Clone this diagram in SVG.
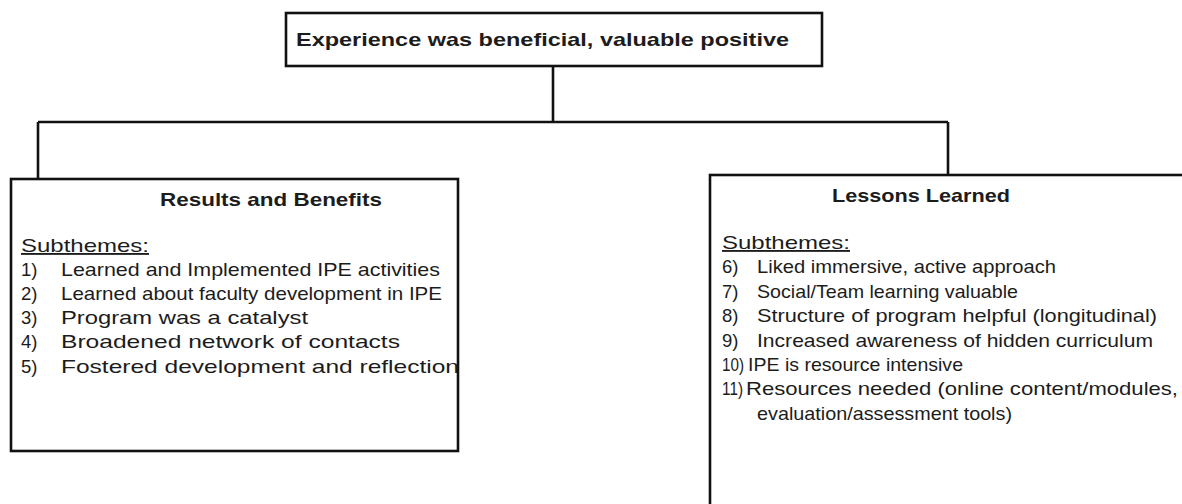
<svg xmlns="http://www.w3.org/2000/svg" width="1182" height="504" viewBox="0 0 1182 504">
  <style>
    .box { fill: #ffffff; stroke: #111111; stroke-width: 2.6; }
    .wire { fill: none; stroke: #111111; stroke-width: 2.6; }
    text { font-family: "Liberation Sans", Arial, sans-serif; fill: #1c1c1c; font-size: 18.5px; }
    .head { font-weight: bold; font-size: 18.5px; }
    .ul { text-decoration: underline; }
  </style>
  <rect width="1182" height="504" fill="#ffffff"/>

  <!-- tree connectors -->
  <g id="connectors">
    <path class="wire" d="M553 66 V122"/>
    <path class="wire" d="M38 122 H948"/>
    <path class="wire" d="M38 122 V179"/>
    <path class="wire" d="M948 122 V175"/>
  </g>

  <!-- root theme -->
  <g id="root">
    <rect class="box" x="286" y="13" width="536" height="53"/>
    <text class="head" x="296" y="46" textLength="493" lengthAdjust="spacingAndGlyphs">Experience was beneficial, valuable positive</text>
  </g>

  <!-- left branch -->
  <g id="results">
    <rect class="box" x="11" y="179" width="447" height="272"/>
    <text class="head" x="160" y="206" textLength="222" lengthAdjust="spacingAndGlyphs">Results and Benefits</text>
    <text class="ul" x="21" y="252" textLength="128" lengthAdjust="spacingAndGlyphs">Subthemes:</text>
    <text x="21" y="276">1)</text>
    <text x="61" y="276" textLength="379" lengthAdjust="spacingAndGlyphs">Learned and Implemented IPE activities</text>
    <text x="21" y="300">2)</text>
    <text x="61" y="300" textLength="381" lengthAdjust="spacingAndGlyphs">Learned about faculty development in IPE</text>
    <text x="21" y="324">3)</text>
    <text x="61" y="324" textLength="247" lengthAdjust="spacingAndGlyphs">Program was a catalyst</text>
    <text x="21" y="348">4)</text>
    <text x="61" y="348" textLength="339" lengthAdjust="spacingAndGlyphs">Broadened network of contacts</text>
    <text x="21" y="373">5)</text>
    <text x="61" y="373" textLength="398" lengthAdjust="spacingAndGlyphs">Fostered development and reflection</text>
  </g>

  <!-- right branch -->
  <g id="lessons">
    <rect class="box" x="710" y="175" width="490" height="340"/>
    <text class="head" x="832" y="202" textLength="178" lengthAdjust="spacingAndGlyphs">Lessons Learned</text>
    <text class="ul" x="722" y="249" textLength="128" lengthAdjust="spacingAndGlyphs">Subthemes:</text>
    <text x="722" y="273">6)</text>
    <text x="757" y="273" textLength="299" lengthAdjust="spacingAndGlyphs">Liked immersive, active approach</text>
    <text x="722" y="298">7)</text>
    <text x="757" y="298" textLength="261" lengthAdjust="spacingAndGlyphs">Social/Team learning valuable</text>
    <text x="722" y="322">8)</text>
    <text x="757" y="322" textLength="400" lengthAdjust="spacingAndGlyphs">Structure of program helpful (longitudinal)</text>
    <text x="722" y="347">9)</text>
    <text x="757" y="347" textLength="396" lengthAdjust="spacingAndGlyphs">Increased awareness of hidden curriculum</text>
    <text x="722" y="371" textLength="22" lengthAdjust="spacingAndGlyphs">10)</text>
    <text x="748" y="371" textLength="215" lengthAdjust="spacingAndGlyphs">IPE is resource intensive</text>
    <text x="722" y="395" textLength="21" lengthAdjust="spacingAndGlyphs">11)</text>
    <text x="746" y="395" textLength="432" lengthAdjust="spacingAndGlyphs">Resources needed (online content/modules,</text>
    <text x="757" y="420" textLength="255" lengthAdjust="spacingAndGlyphs">evaluation/assessment tools)</text>
  </g>
</svg>
